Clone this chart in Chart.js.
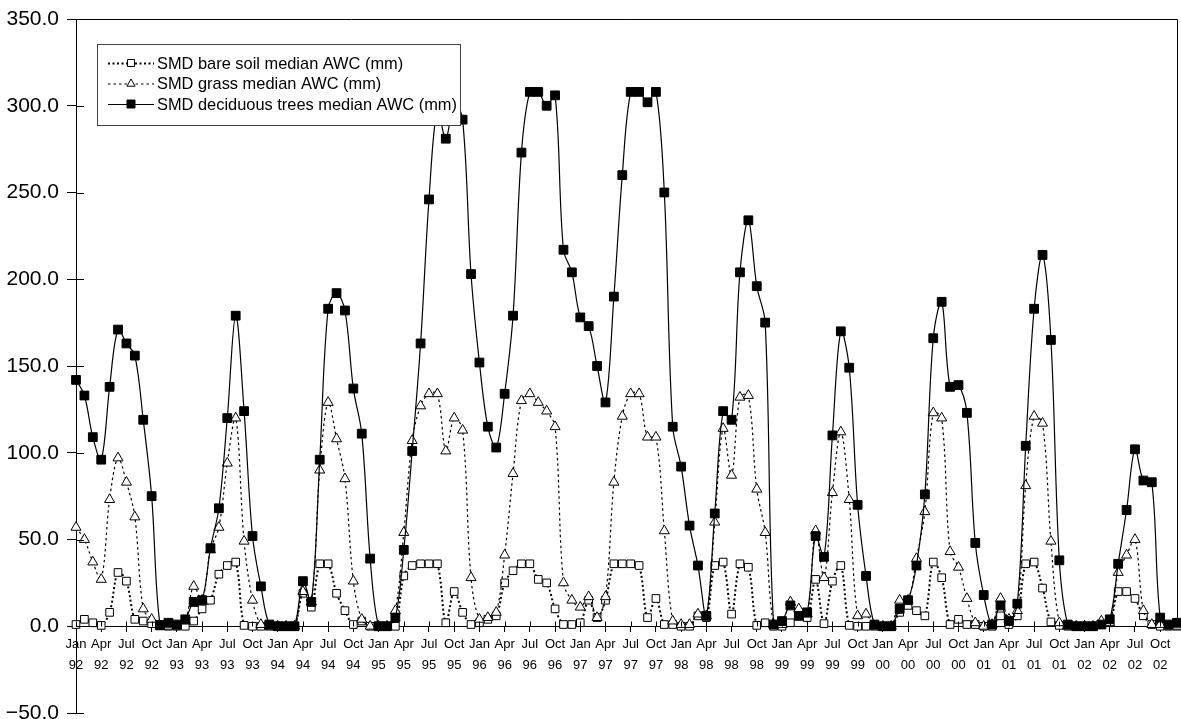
<!DOCTYPE html>
<html>
<head>
<meta charset="utf-8">
<script src="https://cdn.jsdelivr.net/npm/chart.js@4.4.0/dist/chart.umd.min.js"></script>
<style>
  html, body { margin: 0; padding: 0; background: #fff; }
</style>
</head>
<body>
<canvas id="smdChart" width="1181" height="719"></canvas>
<script>
const months = ['Jan', 'Feb', 'Mar', 'Apr', 'May', 'Jun', 'Jul', 'Aug', 'Sep', 'Oct', 'Nov', 'Dec'];
const years = ['92', '93', '94', '95', '96', '97', '98', '99', '00', '01', '02'];
const categories = years.flatMap(y => months.map(m => [m, y]));

// one row per year, Jan..Dec
const bareSoil = [
    1, 4, 2, 0.5, 8, 31, 26, 4, 3, 1.5, 1, 0,
    0, 0, 3, 10, 15, 30, 35, 37, 0.5, 0, 0, 0,
    0, 0, 0, 19, 11, 36, 36, 19, 9, 1, 3, 0,
    0, 0, 0, 29, 35, 36, 36, 36, 2, 20, 8, 1,
    2, 4, 6, 25, 32, 36, 36, 27, 25, 10, 1, 1,
    2, 15, 5, 15, 36, 36, 36, 35, 5, 16, 1, 1,
    0, 0, 6, 5, 35, 37, 7, 36, 34, 0.5, 2, 0,
    0, 2, 6, 5, 27, 1.5, 26, 35, 0.5, 0, 0, 0,
    0, 0, 8, 12, 9, 6, 37, 28, 1, 4, 1, 1,
    0, 0, 6, 1, 6, 36, 37, 22, 2.5, 0.5, 0, 0,
    0, 0, 1, 2, 20, 20, 16, 6, 1, 0, 0, 0
];
const grass = [
    57, 50, 37, 27, 73, 97, 83, 63, 10, 4, 0, 0,
    0, 3, 23, 15, 44, 57, 94, 120, 49, 15, 1, 0,
    0, 0, 0, 20, 14, 90, 129, 108, 85, 26, 4, 0,
    0, 0, 9, 54, 107, 127, 134, 134, 101, 120, 113, 28,
    4, 5, 8, 41, 88, 130, 134, 129, 124, 115, 25, 15,
    11, 17, 5, 17, 83, 121, 134, 134, 109, 109, 55, 3,
    1, 1, 7, 6, 60, 114, 87, 132, 133, 79, 54, 1,
    1, 14, 10, 7, 55, 28, 77, 112, 73, 6, 7, 0,
    0, 0, 15, 15, 39, 66, 123, 120, 43, 34, 16, 2,
    0, 1, 16, 4, 9, 81, 121, 117, 49, 2, 0, 0,
    0, 0, 3, 2, 31, 41, 50, 9, 1, 1, 0, 0
];
const trees = [
    142, 133, 109, 96, 138, 171, 163, 156, 119, 75, 0.5, 2,
    1, 4, 14, 15, 45, 68, 120, 179, 124, 52, 23, 1,
    0, 0, 0, 26, 14, 96, 183, 192, 182, 137, 111, 39,
    0, 0, 5, 44, 101, 163, 246, 298, 281, 302, 292, 203,
    152, 115, 103, 134, 179, 273, 308, 308, 300, 306, 217, 204,
    178, 173, 150, 129, 190, 260, 308, 308, 302, 308, 250, 115,
    92, 58, 35, 6, 65, 124, 119, 204, 234, 196, 175, 1,
    3, 12, 6, 8, 52, 40, 110, 170, 149, 70, 29, 1,
    0, 0, 10, 15, 35, 76, 166, 187, 138, 139, 123, 48,
    18, 1, 12, 3, 13, 104, 183, 214, 165, 38, 1, 0,
    0, 0, 1, 4, 36, 67, 102, 84, 83, 5, 1, 2
];
const seriesNames = [
    'SMD bare soil median AWC (mm)',
    'SMD grass median AWC (mm)',
    'SMD deciduous trees median AWC (mm)'
];

const FONT = "'Liberation Sans', Arial, Helvetica, sans-serif";
Chart.defaults.font.family = FONT;
Chart.defaults.color = '#000';

const bareDash = [2, 2.5];
const grassDash = [2.5, 3];

function drawMarker(ctx, style, x, y, r, fill) {
    ctx.save();
    ctx.setLineDash([]);
    ctx.lineWidth = 1;
    ctx.strokeStyle = '#000';
    ctx.fillStyle = fill;
    ctx.beginPath();
    if (style === 'triangle') {
        ctx.moveTo(x, y - r);
        ctx.lineTo(x + r * 0.9, y + r * 0.6);
        ctx.lineTo(x - r * 0.9, y + r * 0.6);
        ctx.closePath();
    } else {
        ctx.rect(x - r, y - r, 2 * r, 2 * r);
    }
    ctx.fill();
    ctx.stroke();
    ctx.restore();
}

// frame, inner tick marks and a legend drawn on top of the lines
const frameAndLegend = {
    id: 'frameAndLegend',
    afterDraw(chart) {
        const { ctx, chartArea: a, scales: { x, y } } = chart;
        const y0 = Math.round(y.getPixelForValue(0)) + 0.5;
        ctx.save();
        ctx.strokeStyle = '#000';
        ctx.lineWidth = 1;
        ctx.beginPath();
        ctx.moveTo(a.left, Math.round(a.top) + 0.5);
        ctx.lineTo(Math.round(a.right) + 0.5, Math.round(a.top) + 0.5);
        ctx.lineTo(Math.round(a.right) + 0.5, y0);
        y.ticks.forEach(t => {
            const py = Math.round(y.getPixelForValue(t.value)) + 0.5;
            ctx.moveTo(a.left, py);
            ctx.lineTo(a.left + 8, py);
        });
        for (let i = 0; i < categories.length; i += 3) {
            const px = Math.round(x.getPixelForValue(i)) + 0.5;
            ctx.moveTo(px, y0);
            ctx.lineTo(px, y0 - 5);
        }
        ctx.stroke();

        // legend
        const box = { x: 97.5, y: 44.5, w: 363, h: 81 };
        ctx.fillStyle = '#fff';
        ctx.fillRect(box.x, box.y, box.w, box.h);
        ctx.strokeStyle = '#444';
        ctx.strokeRect(box.x, box.y, box.w, box.h);
        const rows = [63, 83.5, 104];
        const dashes = [bareDash, grassDash, []];
        const widths = [2, 1.2, 1.2];
        ctx.font = '16.4px ' + FONT;
        ctx.textBaseline = 'middle';
        rows.forEach((ry, i) => {
            ctx.strokeStyle = '#000';
            ctx.lineWidth = widths[i];
            ctx.setLineDash(dashes[i]);
            ctx.beginPath();
            ctx.moveTo(108, ry + 0.5);
            ctx.lineTo(154, ry + 0.5);
            ctx.stroke();
            ctx.setLineDash([]);
            if (i === 0) drawMarker(ctx, 'rect', 131, ry, 3.5, '#fff');
            if (i === 1) drawMarker(ctx, 'triangle', 131, ry, 4.5, '#fff');
            if (i === 2) drawMarker(ctx, 'rect', 131, ry, 4, '#000');
            ctx.fillStyle = '#000';
            ctx.fillText(seriesNames[i], 157, ry + 1);
        });
        ctx.restore();
    }
};

const ctx = document.getElementById('smdChart').getContext('2d');
const chart = new Chart(ctx, {
    type: 'line',
    data: {
        labels: categories,
        datasets: [{
            label: seriesNames[0],
            data: bareSoil,
            borderColor: '#000',
            borderWidth: 2,
            borderDash: bareDash,
            pointStyle: 'rect',
            pointRadius: 5.4,
            pointBackgroundColor: '#fff',
            pointBorderColor: '#000',
            pointBorderWidth: 1,
            tension: 0.35,
            fill: false,
            order: 3
        }, {
            label: seriesNames[1],
            data: grass,
            borderColor: '#000',
            borderWidth: 1.2,
            borderDash: grassDash,
            pointStyle: 'triangle',
            pointRadius: 5.8,
            pointBackgroundColor: '#fff',
            pointBorderColor: '#000',
            pointBorderWidth: 1,
            tension: 0.35,
            fill: false,
            order: 2
        }, {
            label: seriesNames[2],
            data: trees,
            borderColor: '#000',
            borderWidth: 1.2,
            pointStyle: 'rect',
            pointRadius: 6.2,
            pointBackgroundColor: '#000',
            pointBorderColor: '#000',
            pointBorderWidth: 1,
            tension: 0.35,
            fill: false,
            order: 1
        }]
    },
    options: {
        responsive: false,
        animation: false,
        devicePixelRatio: 1,
        layout: { autoPadding: false, padding: { top: 19, right: 4, bottom: 6, left: 0 } },
        scales: {
            x: {
                type: 'category',
                position: { y: 0 },
                offset: false,
                grid: { drawOnChartArea: false, color: '#000', tickLength: 5 },
                border: { display: true, color: '#000', width: 1 },
                ticks: {
                    autoSkip: false,
                    maxRotation: 0,
                    minRotation: 0,
                    padding: 3,
                    color: '#000',
                    font: { size: 13, lineHeight: 1.6 },
                    callback: function(value, index) {
                        return index % 3 === 0 ? this.getLabelForValue(value) : null;
                    }
                },
                afterFit: function(scale) {
                    scale.height = 0;
                    scale.paddingLeft = 0;
                    scale.paddingRight = 0;
                    scale.paddingTop = 0;
                    scale.paddingBottom = 0;
                }
            },
            y: {
                min: -50,
                max: 350,
                grid: { drawOnChartArea: false, color: '#000', tickLength: 9 },
                border: { display: true, color: '#000', width: 1 },
                ticks: {
                    stepSize: 50,
                    padding: 8,
                    color: '#000',
                    font: { size: 21 },
                    callback: v => v < 0 ? '\u2212' + Math.abs(v).toFixed(1) : v.toFixed(1)
                },
                afterFit: function(scale) {
                    scale.width = 76;
                    scale.paddingTop = 0;
                    scale.paddingBottom = 0;
                }
            }
        },
        plugins: {
            legend: { display: false },
            tooltip: { enabled: false }
        }
    },
    plugins: [frameAndLegend]
});
</script>
</body>
</html>
